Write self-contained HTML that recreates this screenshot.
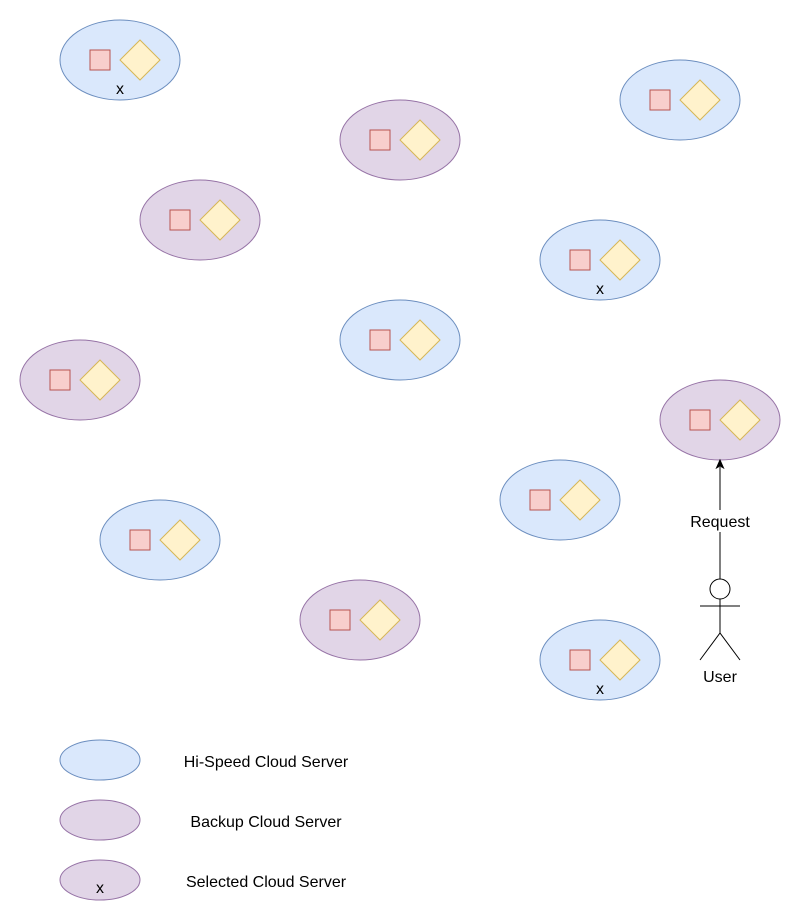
<!DOCTYPE html>
<html><head><meta charset="utf-8"><style>html,body{margin:0;padding:0;background:#fff}svg{display:block}text{font-family:"Liberation Sans",Arial,sans-serif;font-size:16px;fill:#000}</style></head><body>
<svg width="802" height="921" viewBox="0 0 802 921" xmlns="http://www.w3.org/2000/svg">
<defs>
<g id="b"><ellipse cx="0" cy="0" rx="60" ry="40" fill="#dae8fc" stroke="#6c8ebf"/><rect x="-30" y="-10" width="20" height="20" fill="#f8cecc" stroke="#b85450"/><polygon points="20,-20 40,0 20,20 0,0" fill="#fff2cc" stroke="#d6b656"/></g>
<g id="p"><ellipse cx="0" cy="0" rx="60" ry="40" fill="#e1d5e7" stroke="#9673a6"/><rect x="-30" y="-10" width="20" height="20" fill="#f8cecc" stroke="#b85450"/><polygon points="20,-20 40,0 20,20 0,0" fill="#fff2cc" stroke="#d6b656"/></g>
</defs>
<use href="#b" x="120" y="60"/><text x="120" y="94" text-anchor="middle">x</text>
<use href="#b" x="680" y="100"/>
<use href="#p" x="400" y="140"/>
<use href="#p" x="200" y="220"/>
<use href="#b" x="600" y="260"/><text x="600" y="294" text-anchor="middle">x</text>
<use href="#b" x="400" y="340"/>
<use href="#p" x="80" y="380"/>
<use href="#p" x="720" y="420"/>
<use href="#b" x="560" y="500"/>
<use href="#b" x="160" y="540"/>
<use href="#p" x="360" y="620"/>
<use href="#b" x="600" y="660"/><text x="600" y="694" text-anchor="middle">x</text>
<line x1="720" y1="579" x2="720" y2="467" stroke="#000"/>
<polygon points="720,460 716.5,468 720,466 723.5,468" fill="#000" stroke="#000"/>
<rect x="686" y="510" width="68" height="22" fill="#fff"/>
<text x="720" y="527" text-anchor="middle">Request</text>
<circle cx="720" cy="589" r="10" fill="#fff" stroke="#000"/>
<line x1="700" y1="606" x2="740" y2="606" stroke="#000"/>
<line x1="720" y1="599" x2="720" y2="633" stroke="#000"/>
<polyline points="700,660 720,633 740,660" fill="none" stroke="#000"/>
<text x="720" y="682" text-anchor="middle">User</text>
<ellipse cx="100" cy="760" rx="40" ry="20" fill="#dae8fc" stroke="#6c8ebf"/>
<ellipse cx="100" cy="820" rx="40" ry="20" fill="#e1d5e7" stroke="#9673a6"/>
<ellipse cx="100" cy="880" rx="40" ry="20" fill="#e1d5e7" stroke="#9673a6"/>
<text x="100" y="893" text-anchor="middle">x</text>
<text x="266" y="767" text-anchor="middle">Hi-Speed Cloud Server</text>
<text x="266" y="827" text-anchor="middle">Backup Cloud Server</text>
<text x="266" y="887" text-anchor="middle">Selected Cloud Server</text>
</svg>
</body></html>
